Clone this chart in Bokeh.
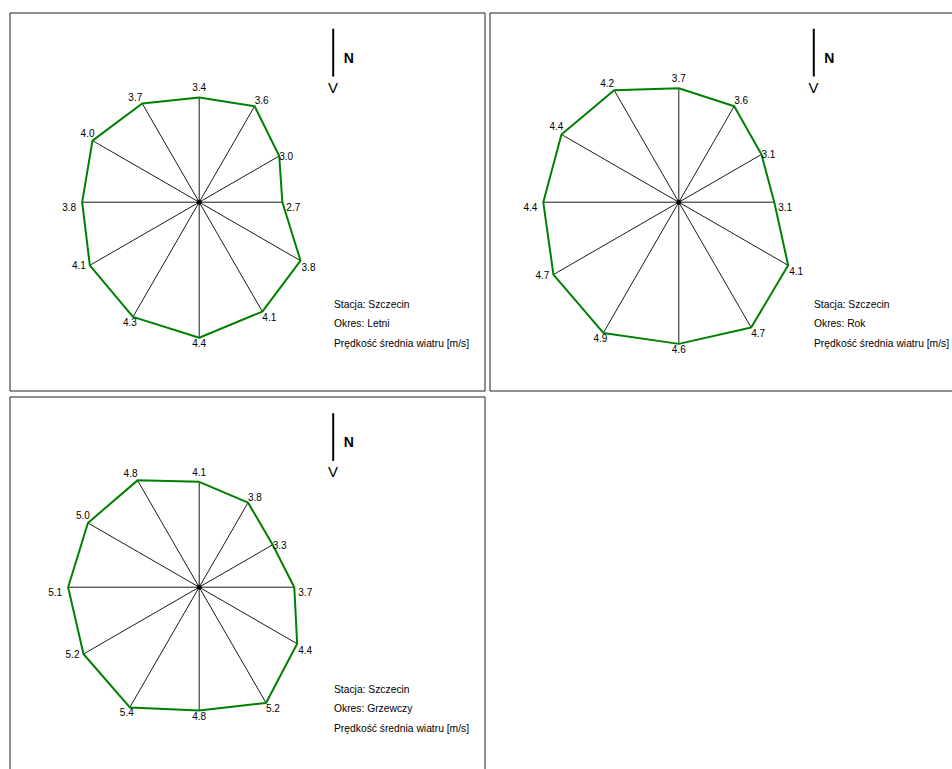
import math
from bokeh.plotting import figure
from bokeh.models import Range1d, ColumnDataSource
from bokeh.embed import file_html
from bokeh.resources import INLINE
from bokeh.core.properties import value

# ---- data ----
directions = ["N", "NNE", "ENE", "E", "ESE", "SSE", "S", "SSW", "WSW", "W", "WNW", "NNW"]
angles_deg = [0, 30, 60, 90, 120, 150, 180, 210, 240, 270, 300, 330]
speed_letni = [3.4, 3.6, 3.0, 2.7, 3.8, 4.1, 4.4, 4.3, 4.1, 3.8, 4.0, 3.7]
speed_rok = [3.7, 3.6, 3.1, 3.1, 4.1, 4.7, 4.6, 4.9, 4.7, 4.4, 4.4, 4.2]
speed_grzewczy = [4.1, 3.8, 3.3, 3.7, 4.4, 5.2, 4.8, 5.4, 5.2, 5.1, 5.0, 4.8]
station = "Szczecin"
periods = ["Letni", "Rok", "Grzewczy"]
unit_label = "Prędkość średnia wiatru [m/s]"

# ---- layout / style ----
W, H = 952, 769
FONT = value("Liberation Sans")
GREEN = "#008000"

panels = [
    dict(values=speed_letni, period=periods[0], cx=198.7, cy=201.7, scale=30.8,
         box=(9.5, 484.5, 12.5, 390.5), tx=333.5, ty=304.0, nx=332.7, ny=28.3),
    dict(values=speed_rok, period=periods[1], cx=678.3, cy=201.7, scale=30.8,
         box=(489.5, 960.0, 12.5, 390.5), tx=813.5, ty=304.0, nx=813.3, ny=28.3),
    dict(values=speed_grzewczy, period=periods[2], cx=198.7, cy=586.7, scale=25.7,
         box=(9.5, 484.5, 396.5, 780.0), tx=333.5, ty=689.0, nx=332.7, ny=412.7),
]

label_align = ["center", "left", "left", "left", "left", "left",
               "center", "center", "right", "right", "right", "right"]
label_baseline = ["bottom", "bottom", "middle", "top", "top", "top",
                  "top", "top", "middle", "top", "bottom", "bottom"]
label_xoff = [0, 0, 0, 4, 1, 0, 0, -3, -4, -6, 2, 0]
label_yoff = [-6, -2, 0, 1, 2, 1, 1, 1, 0, 1, -4, -3]

p = figure(width=W, height=H, x_range=Range1d(0, W), y_range=Range1d(H, 0),
           output_backend="svg", toolbar_location=None, min_border=0,
           x_axis_location=None, y_axis_location=None,
           background_fill_color="white", border_fill_color="white",
           outline_line_color=None)
p.grid.visible = False

for i, pan in enumerate(panels):
    # panel border (pixel space)
    l, r, t, b = pan["box"]
    p.quad(left=[l], right=[r], top=[t], bottom=[b], fill_color=None,
           line_color="#202020", line_width=1)

    # per-panel data ranges: wind speed units, centred on the rose
    s, cx, cy = pan["scale"], pan["cx"], pan["cy"]
    xn, yn = f"x{i}", f"y{i}"
    p.extra_x_ranges[xn] = Range1d(-cx / s, (W - cx) / s)
    p.extra_y_ranges[yn] = Range1d(-(H - cy) / s, cy / s)

    vals = pan["values"]
    xs = [v * math.sin(math.radians(a)) for v, a in zip(vals, angles_deg)]
    ys = [v * math.cos(math.radians(a)) for v, a in zip(vals, angles_deg)]

    # spokes
    p.segment(x0=[0] * len(xs), y0=[0] * len(ys), x1=xs, y1=ys,
              line_color="#1a1a1a", line_width=1, x_range_name=xn, y_range_name=yn)
    # polygon
    p.line(x=xs + [xs[0]], y=ys + [ys[0]], line_color=GREEN, line_width=2,
           x_range_name=xn, y_range_name=yn)
    # centre dot
    p.scatter(x=[0], y=[0], size=4, color="black", x_range_name=xn, y_range_name=yn)

    src = ColumnDataSource(dict(x=xs, y=ys, t=[f"{v:.1f}" for v in vals],
                                al=label_align, bl=label_baseline,
                                xo=label_xoff, yo=label_yoff))
    p.text(x="x", y="y", text="t", source=src, text_align="al", text_baseline="bl",
           x_offset="xo", y_offset="yo", text_font=FONT, text_font_size="10px",
           text_color="black", x_range_name=xn, y_range_name=yn)

    # info text
    info = [f"Stacja: {station}", f"Okres: {pan['period']}", unit_label]
    p.text(x=[pan["tx"]] * 3, y=[pan["ty"], pan["ty"] + 19.4, pan["ty"] + 38.8],
           text=info, text_align="left", text_baseline="middle",
           text_font=FONT, text_font_size="10.3px", text_color="black")

    # north indicator
    nx, ny = pan["nx"], pan["ny"]
    p.segment(x0=[nx], y0=[ny], x1=[nx], y1=[ny + 47.7], line_color="black", line_width=2)
    p.text(x=[nx + 15.5], y=[ny + 29], text=["N"], text_align="center",
           text_baseline="middle", text_font=FONT, text_font_size="14px",
           text_font_style="bold", text_color="black")
    p.text(x=[nx - 0.2], y=[ny + 58.5], text=["V"], text_align="center",
           text_baseline="middle", text_font=FONT, text_font_size="15px",
           text_color="black")

open("out.html", "w").write(file_html(p, INLINE))
